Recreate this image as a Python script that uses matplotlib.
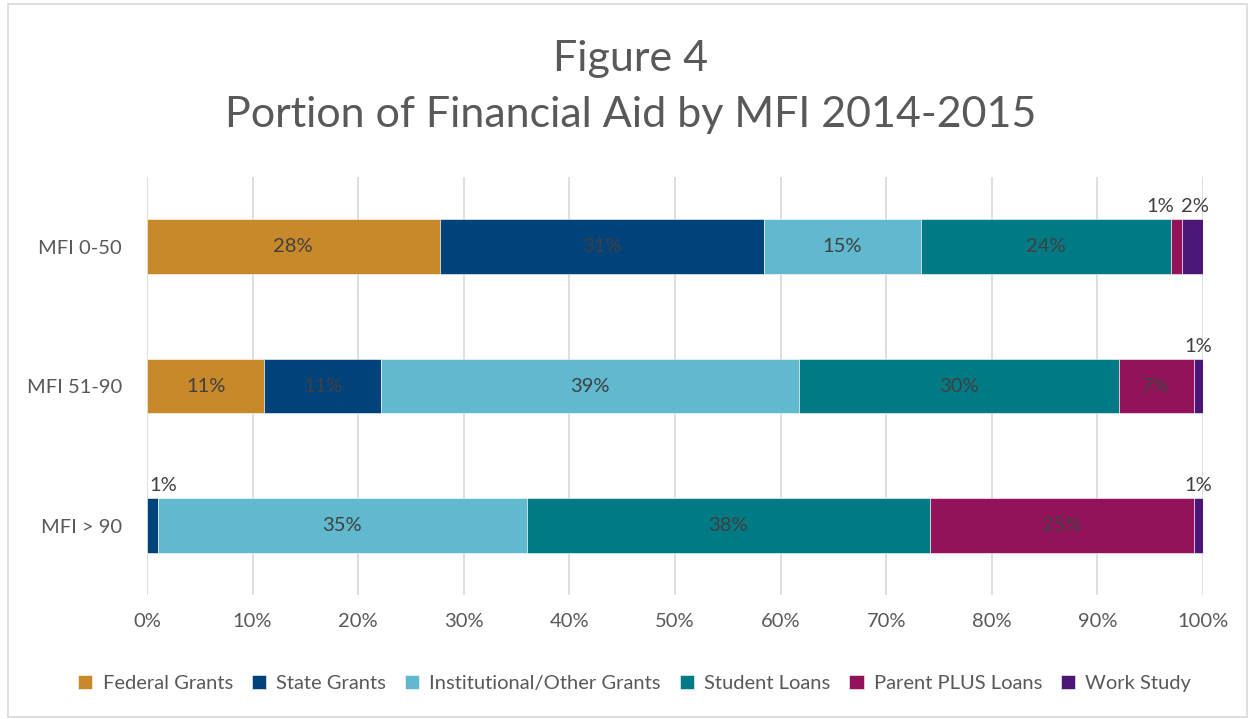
import matplotlib
matplotlib.use("Agg")
import matplotlib.pyplot as plt
import numpy as np
from matplotlib.patches import Rectangle

plt.rcParams['font.family'] = ['Lato', 'DejaVu Sans']

# data (percent of aid)
groups = ["MFI 0-50", "MFI 51-90", "MFI > 90"]
series = ["Federal Grants", "State Grants", "Institutional/Other Grants",
          "Student Loans", "Parent PLUS Loans", "Work Study"]
federal = [27.7, 11.1, 0.0]
state = [30.7, 11.1, 1.0]
institutional = [14.9, 39.5, 35.0]
student = [23.7, 30.3, 38.1]
parent = [1.0, 7.1, 25.0]
work = [2.0, 0.9, 0.9]
labels = [
    ["28%", "11%", ""],
    ["31%", "11%", "1%"],
    ["15%", "39%", "35%"],
    ["24%", "30%", "38%"],
    ["1%", "7%", "25%"],
    ["2%", "1%", "1%"],
]
colors = ["#C8892B", "#00427A", "#60B9CE", "#007A84", "#92135A", "#4B1678"]

text_col = "#595959"
lab_col = "#404040"


def main():
    fig = plt.figure(figsize=(12.52, 7.19), dpi=100)
    fig.patches.append(Rectangle((0.006, 0.003), 0.99, 0.991, transform=fig.transFigure,
                                 fill=False, edgecolor="#D9D9D9", linewidth=1.2))
    ax = fig.add_axes([0.1174, 0.172, 0.8435, 0.582])

    values = [federal, state, institutional, student, parent, work]
    y = np.arange(len(groups))
    h = 0.39
    left = np.zeros(len(groups))
    for i, vals in enumerate(values):
        vals = np.array(vals)
        ax.barh(y, vals, left=left, height=h, color=colors[i],
                edgecolor="white", linewidth=0.4, label=series[i], zorder=3)
        for j, v in enumerate(vals):
            lab = labels[i][j]
            if not lab:
                continue
            cx = left[j] + v / 2
            if v < 3:
                # small segments: label above the bar
                dx = 0
                if j == 0 and i == 4:
                    dx = -12
                if j == 0 and i == 5:
                    dx = 2
                if j == 2 and i == 1:
                    dx = 8
                ax.annotate(lab, (cx, y[j] - h / 2), xytext=(dx, 3),
                            textcoords="offset points", ha="center", va="bottom",
                            fontsize=14.5, color=lab_col, zorder=4)
            else:
                ax.text(cx, y[j], lab, ha="center", va="center",
                        fontsize=14.5, color=lab_col, zorder=4)
        left += vals

    ax.set_xlim(0, 100)
    ax.set_ylim(2.5, -0.5)
    ax.set_xticks(np.arange(0, 101, 10))
    ax.set_xticklabels([f"{t}%" for t in range(0, 101, 10)])
    ax.set_yticks(y)
    ax.set_yticklabels(groups)
    ax.tick_params(axis="both", length=0, labelsize=14.5, labelcolor=text_col)
    ax.tick_params(axis="x", pad=13)
    ax.tick_params(axis="y", pad=18)
    ax.grid(axis="x", color="#D9D9D9", linewidth=1.2, zorder=0)
    for s in ax.spines.values():
        s.set_visible(False)

    fig.text(0.504, 0.918, "Figure 4", ha="center", va="center",
             fontsize=31, color=text_col)
    fig.text(0.504, 0.840, "Portion of Financial Aid by MFI 2014-2015",
             ha="center", va="center", fontsize=31, color=text_col)

    leg = ax.legend(loc="center", ncol=6, frameon=False,
                    fontsize=14.5, handlelength=0.7, handleheight=0.7,
                    handletextpad=0.5, columnspacing=0.95)
    leg.set_bbox_to_anchor((0.507, 0.05), transform=fig.transFigure)
    for t in leg.get_texts():
        t.set_color(text_col)

    fig.savefig("out.png", dpi=100)


if __name__ == "__main__":
    main()
